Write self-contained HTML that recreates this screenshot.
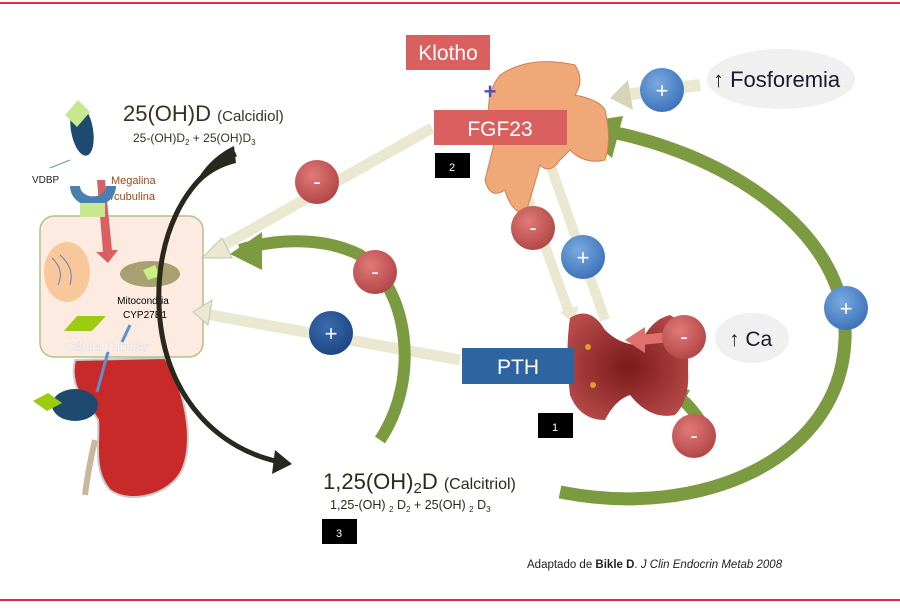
<!DOCTYPE html>
<html><head><meta charset="utf-8"><style>
body{margin:0;background:#fff;}
svg{display:block;font-family:"Liberation Sans",sans-serif;}
</style></head><body>
<svg width="900" height="612" viewBox="0 0 900 612" xmlns="http://www.w3.org/2000/svg">
<defs>
<radialGradient id="gr" cx="40%" cy="35%" r="70%"><stop offset="0" stop-color="#e07a78"/><stop offset="1" stop-color="#b04444"/></radialGradient>
<radialGradient id="gb" cx="40%" cy="35%" r="70%"><stop offset="0" stop-color="#7aaae0"/><stop offset="1" stop-color="#3a70b8"/></radialGradient>
<radialGradient id="gd" cx="40%" cy="35%" r="70%"><stop offset="0" stop-color="#3a6cb0"/><stop offset="1" stop-color="#1c4480"/></radialGradient>
<radialGradient id="thy" cx="50%" cy="50%" r="60%"><stop offset="0" stop-color="#7a1a1a"/><stop offset="1" stop-color="#b84a4a"/></radialGradient>
</defs>
<rect width="900" height="612" fill="#fff"/>
<line x1="0" y1="3" x2="900" y2="3" stroke="#e0284a" stroke-width="2"/>
<line x1="0" y1="600" x2="900" y2="600" stroke="#e0284a" stroke-width="2"/>

<!-- kidney -->
<path d="M75 360 C68 390 90 405 98 420 C100 440 92 470 110 490 C130 505 170 495 182 470 C195 440 185 390 165 358 Z" fill="#c82a2a" stroke="#ccc" stroke-width="2"/>
<path d="M95 440 Q88 470 85 495" stroke="#c8b8a0" stroke-width="6" fill="none"/>

<!-- cell -->
<rect x="40" y="216" width="163" height="141" rx="14" fill="#fdeae0" stroke="#a8c080" stroke-width="1.5" opacity="0.95"/>
<ellipse cx="67" cy="272" rx="23" ry="30" fill="#f8c89a"/>
<path d="M52 258 Q65 270 58 285 M60 255 Q75 268 70 285" stroke="#6080c0" fill="none"/>
<ellipse cx="150" cy="274" rx="30" ry="13" fill="#a8a070"/>
<polygon points="143,270 155,265 160,276 148,280" fill="#c8f080"/>
<text x="143" y="304" font-size="10" text-anchor="middle" fill="#000">Mitocondria</text>
<text x="145" y="318" font-size="10" text-anchor="middle" fill="#000">CYP27B1</text>
<polygon points="64,331 77,316 106,316 92,331" fill="#9ccc10"/>
<text x="107" y="351" font-size="13" fill="#fff" stroke="#ccc" stroke-width="0.3" text-anchor="middle">Célula Tubular</text>
<line x1="130" y1="325" x2="122" y2="342" stroke="#5a90d0" stroke-width="3"/>
<line x1="108" y1="352" x2="97" y2="392" stroke="#5a90d0" stroke-width="3"/>
<ellipse cx="75" cy="405" rx="23" ry="16" fill="#1e4a70"/>
<polygon points="33,401 48,393 62,403 47,411" fill="#9ccc10"/>

<!-- VDBP -->
<ellipse cx="82" cy="130" rx="11" ry="26" fill="#1e4a70" transform="rotate(-10 82 130)"/>
<polygon points="65,115 78,100 90,112 77,127" fill="#c8e890"/>
<line x1="50" y1="168" x2="70" y2="160" stroke="#5a90d0"/>
<text x="32" y="183" font-size="10" fill="#222">VDBP</text>
<text x="111" y="184" font-size="11" fill="#a04818">Megalina</text>
<text x="111" y="200" font-size="11" fill="#a04818">/cubulina</text>
<polygon points="97,180 105,180 112,250 118,250 108,263 96,252 103,252" fill="#d86060"/>
<path d="M70 186 A18 16 0 0 0 116 186 L106 186 A10 8 0 0 1 80 186 Z" fill="#4a80b0"/>
<rect x="80" y="203" width="25" height="14" fill="#c8e890"/>

<!-- text calcidiol -->
<text x="123" y="121" font-size="22" fill="#3a3020">25(OH)D <tspan font-size="15">(Calcidiol)</tspan></text>
<text x="133" y="142" font-size="12" fill="#3a3020">25-(OH)D<tspan font-size="8" dy="3">2</tspan><tspan dy="-3"> + 25(OH)D</tspan><tspan font-size="8" dy="3">3</tspan></text>

<!-- black arc -->
<path d="M236 154 C185 175 152 240 160 320 C168 400 220 450 280 462" stroke="#28281c" stroke-width="5" fill="none"/>
<path d="M234 146 L236 163 C215 168 200 180 190 195 C200 170 215 155 234 146Z" fill="#28281c"/>
<polygon points="275,450 292,464 272,474" fill="#28281c"/>

<!-- beige arrows -->
<line x1="432" y1="128" x2="215" y2="250" stroke="#eae8d0" stroke-width="11"/>
<polygon points="202,258 222,238 232,258" fill="#eae8d0" stroke="#c8c4a8"/>
<line x1="460" y1="360" x2="205" y2="314" stroke="#eae8d0" stroke-width="11"/>
<polygon points="193,312 212,300 208,325" fill="#eae8d0" stroke="#c8c4a8"/>
<line x1="510" y1="150" x2="570" y2="315" stroke="#eae8d0" stroke-width="10"/>
<line x1="545" y1="150" x2="605" y2="320" stroke="#eae8d0" stroke-width="10"/>
<polygon points="560,312 578,306 575,325" fill="#eae8d0"/>
<line x1="700" y1="85" x2="625" y2="95" stroke="#eae8d0" stroke-width="12"/>
<polygon points="610,98 628,80 633,110" fill="#d8d4b8"/>

<!-- green arcs -->
<path d="M380 440 C420 380 410 290 360 255 C320 235 270 240 240 250" stroke="#7c9a40" stroke-width="12" fill="none"/>
<polygon points="230,254 262,232 262,270" fill="#7c9a40"/>
<path d="M560 492 C700 520 840 460 845 340 C850 230 720 150 600 130" stroke="#7c9a40" stroke-width="13" fill="none"/>
<polygon points="572,124 623,116 612,158" fill="#7c9a40"/>
<path d="M710 436 C700 420 690 405 680 398" stroke="#7c9a40" stroke-width="12" fill="none"/>
<polygon points="660,385 690,390 678,412" fill="#7c9a40"/>

<!-- bone -->
<path d="M500 75 Q530 55 575 65 Q585 80 575 95 Q600 100 605 110 Q612 140 605 160 Q585 165 570 150 L560 160 Q550 175 540 165 Q530 200 525 215 Q510 210 505 190 Q490 200 485 180 Q490 160 495 140 Q480 100 500 75Z" fill="#f0a878" stroke="#d08050" stroke-width="1"/>
<!-- thyroid -->
<path d="M570 318 Q590 305 605 330 Q620 345 640 345 Q650 320 670 315 Q690 325 688 370 Q690 400 675 415 Q650 420 630 395 Q615 400 605 420 Q580 420 570 395 Q565 350 570 318Z" fill="url(#thy)"/>
<circle cx="588" cy="347" r="3" fill="#e0a020"/><circle cx="593" cy="385" r="3" fill="#e0a020"/>
<line x1="690" y1="335" x2="640" y2="340" stroke="#e07070" stroke-width="10"/>
<polygon points="625,340 645,327 645,353" fill="#e07070"/>

<!-- boxes -->
<rect x="406" y="35" width="84" height="35" fill="#d9605f"/>
<text x="448" y="60" font-size="21" fill="#fff" text-anchor="middle">Klotho</text>
<text x="490" y="99" font-size="22" font-weight="bold" fill="#5050c0" text-anchor="middle">+</text>
<rect x="434" y="110" width="133" height="35" fill="#d9605f"/>
<text x="500" y="136" font-size="21" fill="#fff" text-anchor="middle">FGF23</text>
<rect x="435" y="153" width="35" height="25" fill="#000"/>
<text x="452" y="171" font-size="11" fill="#fff" text-anchor="middle">2</text>
<rect x="462" y="348" width="112" height="36" fill="#2e64a0"/>
<text x="518" y="374" font-size="21" fill="#fff" text-anchor="middle">PTH</text>
<rect x="538" y="413" width="35" height="25" fill="#000"/>
<text x="555" y="431" font-size="11" fill="#fff" text-anchor="middle">1</text>
<rect x="322" y="519" width="35" height="25" fill="#000"/>
<text x="339" y="537" font-size="11" fill="#fff" text-anchor="middle">3</text>

<!-- ellipses -->
<ellipse cx="781" cy="79" rx="74" ry="30" fill="#f0f0f0"/>
<text x="713" y="87" font-size="22" fill="#1a1a2a">↑ Fosforemia</text>
<ellipse cx="752" cy="338" rx="37" ry="25" fill="#f0f0f0"/>
<text x="729" y="346" font-size="21" fill="#1a1a2a">↑ Ca</text>

<!-- circles -->
<g font-size="22" fill="#fff" text-anchor="middle">
<circle cx="317" cy="182" r="22" fill="url(#gr)"/><text x="317" y="189">-</text>
<circle cx="375" cy="272" r="22" fill="url(#gr)"/><text x="375" y="279">-</text>
<circle cx="331" cy="333" r="22" fill="url(#gd)"/><text x="331" y="341">+</text>
<circle cx="533" cy="228" r="22" fill="url(#gr)"/><text x="533" y="235">-</text>
<circle cx="583" cy="257" r="22" fill="url(#gb)"/><text x="583" y="265">+</text>
<circle cx="662" cy="90" r="22" fill="url(#gb)"/><text x="662" y="98">+</text>
<circle cx="846" cy="308" r="22" fill="url(#gb)"/><text x="846" y="316">+</text>
<circle cx="684" cy="337" r="22" fill="url(#gr)"/><text x="684" y="344">-</text>
<circle cx="694" cy="436" r="22" fill="url(#gr)"/><text x="694" y="443">-</text>
</g>

<!-- calcitriol -->
<text x="323" y="489" font-size="22" fill="#2a2a1a">1,25(OH)<tspan font-size="15" dy="4">2</tspan><tspan dy="-4">D</tspan>  <tspan font-size="16">(Calcitriol)</tspan></text>
<text x="330" y="509" font-size="12.5" fill="#2a2a1a">1,25-(OH) <tspan font-size="8" dy="3">2</tspan><tspan dy="-3"> D</tspan><tspan font-size="8" dy="3">2</tspan><tspan dy="-3"> + 25(OH) </tspan><tspan font-size="8" dy="3">2</tspan><tspan dy="-3"> D</tspan><tspan font-size="8" dy="3">3</tspan></text>
<text x="527" y="568" font-size="11.5" fill="#222">Adaptado de <tspan font-weight="bold">Bikle D</tspan>. <tspan font-style="italic">J Clin Endocrin Metab 2008</tspan></text>
</svg>
</body></html>
